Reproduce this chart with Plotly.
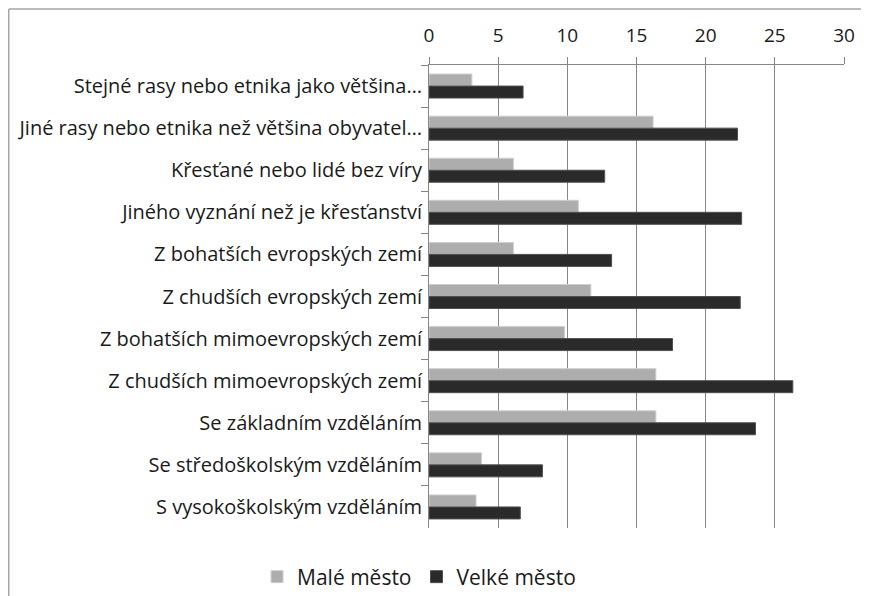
import plotly.graph_objects as go

categories = [
    "Stejné rasy nebo etnika jako většina…",
    "Jiné rasy nebo etnika než většina obyvatel…",
    "Křesťané nebo lidé bez víry",
    "Jiného vyznání než je křesťanství",
    "Z bohatších evropských zemí",
    "Z chudších evropských zemí",
    "Z bohatších mimoevropských zemí",
    "Z chudších mimoevropských zemí",
    "Se základním vzděláním",
    "Se středoškolským vzděláním",
    "S vysokoškolským vzděláním",
]
male_mesto = [3.1, 16.2, 6.1, 10.8, 6.1, 11.7, 9.8, 16.4, 16.4, 3.8, 3.4]
velke_mesto = [6.8, 22.3, 12.7, 22.6, 13.2, 22.5, 17.6, 26.3, 23.6, 8.2, 6.6]
x_ticks = [0, 5, 10, 15, 20, 25, 30]

# page body has an 8px margin, so the figure is a bit smaller than the window
W, H = 861, 588
ML, MR, MT, MB = 421, 25, 57, 68
PW, PH = W - ML - MR, H - MT - MB

FONT = "Open Sans, sans-serif"
AXIS_GRAY = '#868686'

fig = go.Figure()
fig.add_trace(go.Bar(
    y=categories, x=male_mesto, orientation='h', name='Malé město',
    marker=dict(color='#adadad', line=dict(color='#cfcfcf', width=1)),
))
fig.add_trace(go.Bar(
    y=categories, x=velke_mesto, orientation='h', name='Velké město',
    marker=dict(color='#2a2a2a', line=dict(color='#505050', width=1)),
))

# outer chart frame (left and top edges visible)
fx0 = (0.75 - ML) / PW
fy_top = 1 + (MT - 1) / PH
fy_bot = -(MB + 5) / PH
fig.add_shape(type='line', xref='paper', yref='paper',
              x0=fx0, x1=1 + (MR + 5) / PW, y0=fy_top, y1=fy_top,
              line=dict(color='#a6a6a6', width=1.5))
fig.add_shape(type='line', xref='paper', yref='paper',
              x0=fx0, x1=fx0, y0=fy_top, y1=fy_bot,
              line=dict(color='#a6a6a6', width=1.5))

fig.update_layout(
    width=W, height=H,
    margin=dict(l=ML, r=MR, t=MT, b=MB, autoexpand=False),
    paper_bgcolor='white', plot_bgcolor='white',
    barmode='group', bargap=0.43, bargroupgap=0.0,
    font=dict(family=FONT, size=20, color='#1a1a1a'),
    xaxis=dict(
        side='top', range=[0, 30], tickvals=x_ticks,
        showgrid=True, gridcolor=AXIS_GRAY, gridwidth=1,
        showline=True, linecolor=AXIS_GRAY, linewidth=1,
        ticks='outside', ticklen=7, tickcolor=AXIS_GRAY,
        ticklabelstandoff=7,
        zeroline=False, tickfont=dict(size=19),
    ),
    yaxis=dict(
        autorange='reversed', showline=True, linecolor=AXIS_GRAY, linewidth=1,
        ticks='outside', ticklen=7, tickcolor=AXIS_GRAY, tickson='boundaries',
        ticklabelstandoff=2,
        showgrid=False, tickfont=dict(size=20),
    ),
    legend=dict(
        orientation='h', x=-0.024, xanchor='center',
        y=-(569 - (H - MB)) / PH, yanchor='middle', font=dict(size=21),
    ),
)

fig.write_html("out.html")
